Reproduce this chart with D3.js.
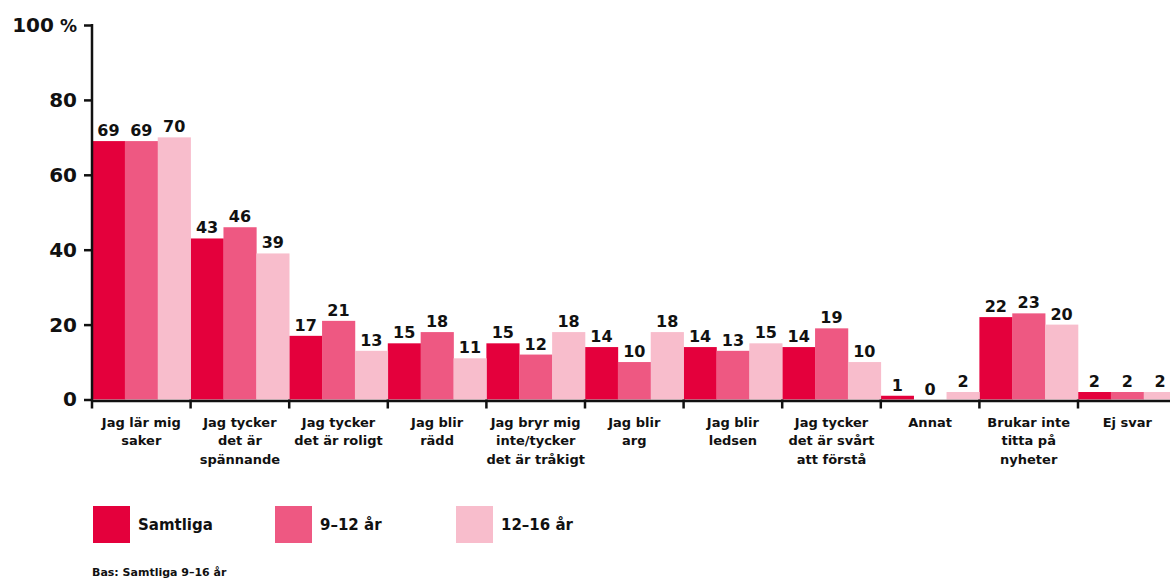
<!DOCTYPE html>
<html><head><meta charset="utf-8">
<script src="https://cdn.jsdelivr.net/npm/d3@7"></script>
<style>
html,body{margin:0;padding:0;background:#fff;}
svg{display:block;font-family:"DejaVu Sans",sans-serif;font-weight:bold;}
</style></head>
<body>
<script>
const categories = [
  ["Jag lär mig","saker"],
  ["Jag tycker","det är","spännande"],
  ["Jag tycker","det är roligt"],
  ["Jag blir","rädd"],
  ["Jag bryr mig","inte/tycker","det är tråkigt"],
  ["Jag blir","arg"],
  ["Jag blir","ledsen"],
  ["Jag tycker","det är svårt","att förstå"],
  ["Annat"],
  ["Brukar inte","titta på","nyheter"],
  ["Ej svar"]
];
const seriesNames = ["Samtliga","9–12 år","12–16 år"];
const samtliga = [69,43,17,15,15,14,14,14,1,22,2];
const age9to12 = [69,46,21,18,12,10,13,19,0,23,2];
const age12to16 = [70,39,13,11,18,18,15,10,2,20,2];
const yTicks = [0,20,40,60,80,100];
const colors = ["#E4003C","#EE5882","#F8BDCC"];
const footnote = "Bas: Samtliga 9–16 år";

const W = 1170, H = 578;
const left = 92, bandW = 98.6, y0 = 399.5, y100 = 25;
const seriesValues = [samtliga, age9to12, age12to16];
const keys = categories.map((c,i)=>"c"+i);

const svg = d3.select("body").append("svg").attr("width",W).attr("height",H);

const x = d3.scaleBand().domain(keys).range([left, left + bandW*keys.length]).padding(0);
const xi = d3.scaleBand().domain(seriesNames).range([0, x.bandwidth()]).padding(0);
const y = d3.scaleLinear().domain([0,100]).range([y0, y100]);

// bars
seriesNames.forEach((s, si) => {
  svg.append("g").selectAll("rect").data(seriesValues[si]).join("rect")
    .attr("x", (d,i) => x(keys[i]) + xi(s))
    .attr("y", d => y(d))
    .attr("width", xi.bandwidth()+0.3)
    .attr("height", d => y(0) - y(d))
    .attr("fill", colors[si]);
  svg.append("g").selectAll("text").data(seriesValues[si]).join("text")
    .attr("x", (d,i) => x(keys[i]) + xi(s) + xi.bandwidth()/2)
    .attr("y", d => y(d) - 5)
    .attr("text-anchor","middle")
    .attr("font-size", 16)
    .attr("fill","#111")
    .text(d => d);
});

// y axis
const yAxis = svg.append("g").attr("transform",`translate(${left},0)`)
  .call(d3.axisLeft(y).tickValues(yTicks).tickSize(8).tickPadding(7).tickFormat(d => d));
yAxis.select(".domain").remove();
yAxis.selectAll(".tick line").attr("stroke","#111").attr("stroke-width",2.5);
yAxis.selectAll(".tick text").attr("font-size",20).attr("font-family","DejaVu Sans").attr("font-weight","bold").attr("fill","#111");
yAxis.selectAll(".tick").filter(d => d===100).select("text").text(null)
  .call(t => { t.append("tspan").text("100"); t.append("tspan").attr("font-size",17).attr("dx",6).text("%"); });
svg.append("line").attr("x1",left).attr("x2",left).attr("y1",y100-1).attr("y2",y0+9)
  .attr("stroke","#111").attr("stroke-width",2.5);

// x axis
const xAxis = svg.append("g").attr("transform",`translate(0,${y0+1})`)
  .call(d3.axisBottom(x).tickSize(0).tickFormat(""));
xAxis.select(".domain").attr("stroke","#111").attr("stroke-width",2.5);
svg.append("g").selectAll("line").data(keys.slice(1)).join("line")
  .attr("x1", d => x(d)).attr("x2", d => x(d))
  .attr("y1", y0).attr("y2", y0+9)
  .attr("stroke","#111").attr("stroke-width",2.5);

// category labels
const catG = svg.append("g");
categories.forEach((lines,i) => {
  const t = catG.append("text")
    .attr("x", x(keys[i]) + x.bandwidth()/2)
    .attr("y", 427)
    .attr("text-anchor","middle")
    .attr("font-size",13)
    .attr("fill","#111");
  lines.forEach((l,j) => t.append("tspan").attr("x", x(keys[i]) + x.bandwidth()/2).attr("dy", j===0?0:18.3).text(l));
});

// legend
const legX = [93, 275, 456];
seriesNames.forEach((s,i) => {
  svg.append("rect").attr("x",legX[i]).attr("y",506).attr("width",37).attr("height",37).attr("fill",colors[i]);
  svg.append("text").attr("x",legX[i]+45).attr("y",530).attr("font-size",15).attr("fill","#111").text(s);
});

svg.append("text").attr("x",92).attr("y",576).attr("font-size",11).attr("fill","#111").text(footnote);
</script>
</body></html>
